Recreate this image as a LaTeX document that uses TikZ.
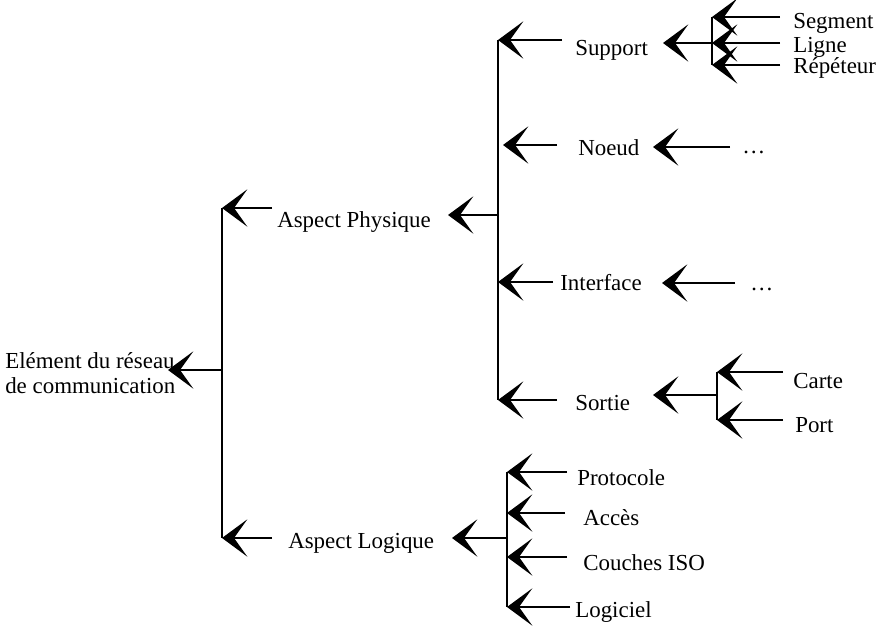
\documentclass[tikz,border=0pt]{standalone}
\usepackage{fontspec}
\setmainfont{Liberation Serif}
\usetikzlibrary{arrows.meta}
\begin{document}
\begin{tikzpicture}[x=0.75pt,y=-0.75pt,
  lbl/.style={inner sep=0pt,anchor=base west,font=\fontsize{17.2pt}{18.75pt}\selectfont},
  arr/.style={line width=1.6pt,-{Stealth[length=19pt,width=28pt,inset=10pt]}},
  bar/.style={line width=2pt}]
\useasboundingbox (0,0) rectangle (885,625);

% ---- labels ----
\node[lbl,align=left] (root) at (5,393) {Elément du réseau\\de communication};
\node[lbl] (phys) at (277,227) {Aspect Physique};
\node[lbl] (logi) at (288,548) {Aspect Logique};

\node[lbl] (support) at (575,55) {Support};
\node[lbl] (noeud) at (578,155) {Noeud};
\node[lbl] (interface) at (560,290) {Interface};
\node[lbl] (sortie) at (575,410) {Sortie};

\node[lbl] (segment) at (793,28) {Segment};
\node[lbl] (ligne) at (793,52) {Ligne};
\node[lbl] (repeteur) at (793,73) {Répéteur};
\node[lbl] (noeudsuite) at (742,153) {\dots};
\node[lbl] (intsuite) at (750,290) {\dots};
\node[lbl] (carte) at (793,388) {Carte};
\node[lbl] (port) at (795,432) {Port};

\node[lbl] (protocole) at (577,485) {Protocole};
\node[lbl] (acces) at (583,525) {Accès};
\node[lbl] (couches) at (583,570) {Couches ISO};
\node[lbl] (logiciel) at (575,617) {Logiciel};

% ---- branch points ----
\coordinate (rootTip) at (168,370);
\coordinate (rootJ) at (222,370);
\coordinate (rootTop) at (222,208);
\coordinate (rootBot) at (222,538);
\coordinate (physL) at (272,208);
\coordinate (logiL) at (272,538);

\coordinate (physTip) at (448,215);
\coordinate (physJ) at (498,215);
\coordinate (physTop) at (498,40);
\coordinate (physBot) at (498,400);
\coordinate (supportL) at (562,40);
\coordinate (noeudTip) at (503,145);
\coordinate (noeudL) at (557,145);
\coordinate (interfaceL) at (553,282);
\coordinate (interfaceTip) at (498,282);
\coordinate (sortieL) at (557,400);

\coordinate (supTip) at (663,43);
\coordinate (supJ) at (712,43);
\coordinate (supTop) at (712,17);
\coordinate (supBot) at (712,65);
\coordinate (segmentL) at (780,17);
\coordinate (ligneL) at (780,43);
\coordinate (repeteurL) at (780,65);

\coordinate (noeudR) at (653,147);
\coordinate (noeudsuiteL) at (730,147);
\coordinate (interfaceR) at (662,283);
\coordinate (intsuiteL) at (735,283);

\coordinate (sortieR) at (653,395);
\coordinate (sortieJ) at (717,395);
\coordinate (sortieTop) at (717,372);
\coordinate (sortieBot) at (717,420);
\coordinate (carteL) at (783,372);
\coordinate (portL) at (783,420);

\coordinate (logiTip) at (452,538);
\coordinate (logiJ) at (507,538);
\coordinate (logiTop) at (507,472);
\coordinate (logiBot) at (507,607);
\coordinate (accesTip) at (507,513);
\coordinate (couchesTip) at (507,557);
\coordinate (protocoleL) at (567,472);
\coordinate (accesL) at (565,513);
\coordinate (couchesL) at (567,557);
\coordinate (logicielL) at (570,607);

% ---- level 0 ----
\draw[bar] (rootTop) -- (rootBot);
\draw[arr] (rootJ) -- (rootTip);
\draw[arr] (physL) -- (rootTop);
\draw[arr] (logiL) -- (rootBot);

% ---- physical aspect ----
\draw[bar] (physTop) -- (physBot);
\draw[arr] (physJ) -- (physTip);
\draw[arr] (supportL) -- (physTop);
\draw[arr] (noeudL) -- (noeudTip);
\draw[arr] (interfaceL) -- (interfaceTip);
\draw[arr] (sortieL) -- (physBot);

\draw[bar] (supTop) -- (supBot);
\draw[arr] (supJ) -- (supTip);
\draw[arr] (segmentL) -- (supTop);
\draw[arr] (ligneL) -- (supJ);
\draw[arr] (repeteurL) -- (supBot);

\draw[arr] (noeudsuiteL) -- (noeudR);
\draw[arr] (intsuiteL) -- (interfaceR);

\draw[bar] (sortieTop) -- (sortieBot);
\draw[arr] (sortieJ) -- (sortieR);
\draw[arr] (carteL) -- (sortieTop);
\draw[arr] (portL) -- (sortieBot);

% ---- logical aspect ----
\draw[bar] (logiTop) -- (logiBot);
\draw[arr] (logiJ) -- (logiTip);
\draw[arr] (protocoleL) -- (logiTop);
\draw[arr] (accesL) -- (accesTip);
\draw[arr] (couchesL) -- (couchesTip);
\draw[arr] (logicielL) -- (logiBot);
\end{tikzpicture}
\end{document}
